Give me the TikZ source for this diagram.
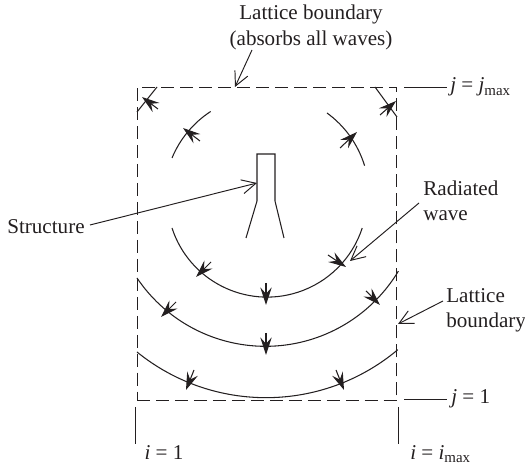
\documentclass[tikz,border=0pt]{standalone}
\usepackage{fontspec}
\setmainfont{Liberation Serif}
\usepackage{xcolor}
\usetikzlibrary{arrows.meta}
\definecolor{ink}{HTML}{231F20}
\newcommand{\subtext}[1]{\raisebox{-0.35ex}{\fontsize{8.5}{9}\selectfont #1}}

\begin{document}
\begin{tikzpicture}[
    x=0.02cm, y=-0.02cm,
    every node/.style={text=ink},
    lbl/.style={font=\fontsize{12}{14.4}\selectfont, inner sep=0pt, align=left},
    wave/.style={draw=ink, line width=0.6pt},
    bound/.style={draw=ink, line width=0.55pt, dash pattern=on 7.4pt off 3.4pt, inner sep=0pt, minimum width=5.2cm, minimum height=6.28cm},
    lead/.style={draw=ink, line width=0.55pt},
    arr/.style={lead, -{Straight Barb[length=8pt, width=8pt]}},
    dart/.style={draw=ink, line width=0.6pt, -{Stealth[length=10pt, width=6.5pt, inset=3.6pt]}},
  ]
    \useasboundingbox (0,0) rectangle (525,469);

    \node[bound] (lattice) at (267,244) {};

    % wave fronts
    \draw[wave] (137,112) -- (157,87);
    \draw[wave] (375,87) -- (397,117);
    \draw[wave] (172,158) arc[start angle=202.5, end angle=237, radius=102];
    \draw[wave] (327,113) arc[start angle=306, end angle=343, radius=102];
    \draw[wave] (172,228) arc[start angle=162, end angle=18, radius=100];
    \draw[wave] (137,278) arc[start angle=146, end angle=31, radius=155];
    \draw[wave] (137,352) arc[start angle=129, end angle=50, radius=205];

    \foreach \xa/\ya/\xb/\yb in {158/109/142/97, 200/141/183/128, 340/148/357/132, 380/115/396/101,
        211/262/196/277, 266/283/266/305, 328/255/346/267,
        176/302/161/317, 266/333/266/355, 366/291/380/305,
        194/370/186/390, 336/370/344/390}
      \draw[dart] (\xa,\ya) -- (\xb,\yb);

    % structure
    \draw[wave] (246,238) -- (257,201) -- (257,154) -- (275,154) -- (275,201) -- (284,238);

    % labels
    \node[lbl, align=center, anchor=north] (toplabel) at (311,5) {Lattice boundary\\(absorbs all waves)};
    \node[lbl, anchor=west] (structlabel) at (7,227) {Structure};
    \node[lbl, anchor=west] (radlabel) at (423,201) {Radiated\\wave};
    \node[lbl, anchor=west] (sidelabel) at (446,310) {Lattice\\boundary};
    \node[lbl, anchor=west] (jmaxlabel) at (450,87) {\textit{j} = \textit{j}\subtext{max}};
    \node[lbl, anchor=west] (jonelabel) at (451,399) {\textit{j} = 1};
    \node[lbl] (ionelabel) at (164,453) {\textit{i} = 1};
    \node[lbl, anchor=west] (imaxlabel) at (410,454) {\textit{i} = \textit{i}\subtext{max}};

    \coordinate (toptip) at (235,87);
    \coordinate (toptail) at (252,50);
    \coordinate (structtail) at (90,225);
    \coordinate (structtip) at (257,183);
    \coordinate (radtail) at (419,203);
    \coordinate (radtip) at (350,261);
    \coordinate (sidetail) at (443,301);
    \coordinate (sidetip) at (398,324);

    \draw[arr] (toptail) -- (toptip);
    \draw[arr] (structtail) -- (structtip);
    \draw[arr] (radtail) -- (radtip);
    \draw[arr] (sidetail) -- (sidetip);

    % index marks
    \coordinate (jmaxend) at (404,87);
    \coordinate (joneend) at (404,399);
    \draw[lead] (jmaxend) -- ([xshift=-1.5pt]jmaxlabel.west);
    \draw[lead] (joneend) -- ([xshift=-2pt]jonelabel.west);
    \coordinate (ionetop) at (135,407);
    \coordinate (ionebot) at (135,444);
    \coordinate (imaxtop) at (398,407);
    \coordinate (imaxbot) at (398,444);
    \draw[lead] (ionetop) -- (ionebot);
    \draw[lead] (imaxtop) -- (imaxbot);
  \end{tikzpicture}
\end{document}
